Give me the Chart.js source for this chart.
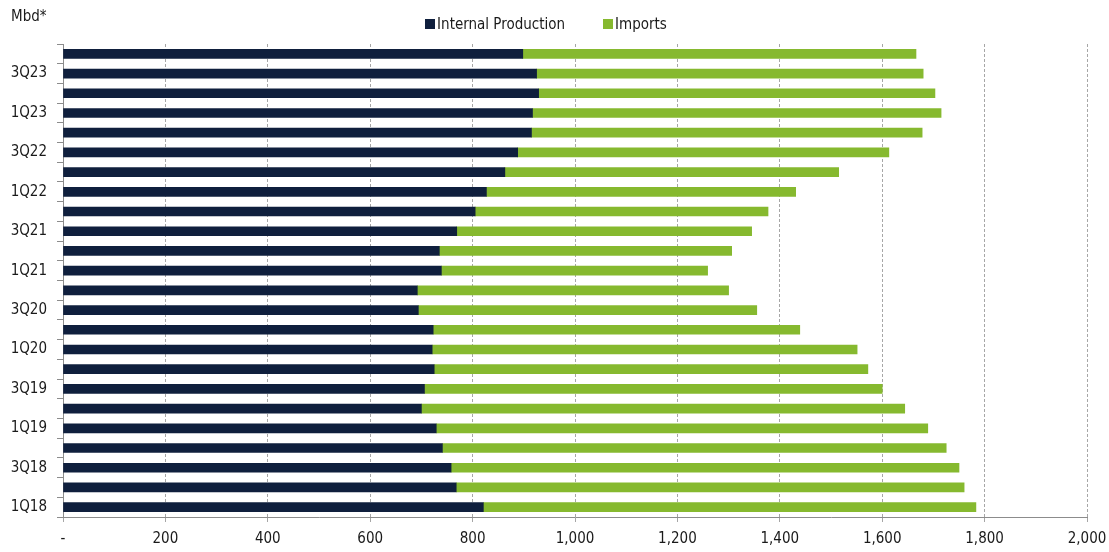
<!DOCTYPE html>
<html>
<head>
<meta charset="utf-8">
<script src="https://cdn.jsdelivr.net/npm/chart.js@4"></script>
<style>
  html, body { margin: 0; padding: 0; background: #fff; }
  #wrap { position: relative; width: 1109px; height: 552px; }
  #unit { position: absolute; left: 11px; top: 7px; font: 15px 'Liberation Sans Narrow', 'DejaVu Sans Condensed', sans-serif; color: #1a1a1a; }
  #legend { position: absolute; left: 0; width: 1092px; top: 15px; display: flex; justify-content: center;
            font: 15px 'Liberation Sans Narrow', 'DejaVu Sans Condensed', sans-serif; color: #1a1a1a; }
  #legend span.item { display: flex; align-items: center; margin: 0 19px; }
  #legend span.box { width: 10px; height: 10px; margin-right: 2px; display: inline-block; }
</style>
</head>
<body>
<div id="wrap">
  <canvas id="chart" width="1109" height="552"></canvas>
  <div id="unit">Mbd*</div>
  <div id="legend"></div>
</div>
<script>
// quarters, bottom to top
const quarters = ['1Q18', '2Q18', '3Q18', '4Q18', '1Q19', '2Q19', '3Q19', '4Q19',
                  '1Q20', '2Q20', '3Q20', '4Q20', '1Q21', '2Q21', '3Q21', '4Q21',
                  '1Q22', '2Q22', '3Q22', '4Q22', '1Q23', '2Q23', '3Q23', '4Q23'];

// thousand barrels per day
const internalProduction = [821, 768, 758, 741, 729, 700, 706, 725, 721, 723, 694, 692,
                            739, 735, 769, 805, 827, 863, 888, 915, 917, 929, 925, 898];
const imports = [962, 992, 992, 984, 960, 944, 894, 847, 830, 716, 661, 608,
                 520, 571, 576, 572, 604, 652, 725, 763, 798, 774, 755, 768];

const xMin = 0;
const xMax = 2000;
const xStep = 200;

const FONT = "'Liberation Sans Narrow', 'DejaVu Sans Condensed', sans-serif";
const NAVY = '#0f1f3d';
const GREEN = '#86b92f';

// ---------- HTML legend ----------
const htmlLegend = {
  id: 'htmlLegend',
  afterUpdate(chart) {
    const box = document.getElementById('legend');
    box.innerHTML = '';
    chart.data.datasets.forEach(ds => {
      const item = document.createElement('span');
      item.className = 'item';
      const sw = document.createElement('span');
      sw.className = 'box';
      sw.style.background = ds.backgroundColor;
      item.appendChild(sw);
      item.appendChild(document.createTextNode(ds.label));
      box.appendChild(item);
    });
  }
};

new Chart(document.getElementById('chart'), {
  type: 'bar',
  data: {
    labels: quarters,
    datasets: [
      { label: 'Internal Production', data: internalProduction, backgroundColor: NAVY, barThickness: 9 },
      { label: 'Imports', data: imports, backgroundColor: GREEN, barThickness: 9 }
    ]
  },
  options: {
    indexAxis: 'y',
    responsive: false,
    animation: false,
    layout: { padding: { left: 0, right: 22, top: 44, bottom: -4 } },
    plugins: {
      legend: { display: false },
      tooltip: { enabled: false }
    },
    scales: {
      x: {
        stacked: true,
        min: xMin,
        max: xMax,
        afterFit: scale => { scale.paddingRight = 0; },
        ticks: {
          stepSize: xStep,
          padding: 8,
          color: '#1a1a1a',
          font: { family: FONT, size: 15 },
          callback: v => v === 0 ? '-' : v.toLocaleString('en-US')
        },
        grid: { color: '#a6a6a6', tickLength: 5 },
        border: { display: true, color: '#8c8c8c', dash: [3, 2] }
      },
      y: {
        stacked: true,
        reverse: true,
        afterFit: scale => { scale.width = 63; },
        ticks: {
          autoSkip: false,
          padding: 10,
          color: '#1a1a1a',
          font: { family: FONT, size: 15 },
          callback: function (v, i) { return i % 2 === 0 ? this.getLabelForValue(v) : ''; }
        },
        grid: { drawOnChartArea: false, tickLength: 6, color: '#8c8c8c', offset: true },
        border: { color: '#8c8c8c' }
      }
    }
  },
  plugins: [htmlLegend]
});
</script>
</body>
</html>
